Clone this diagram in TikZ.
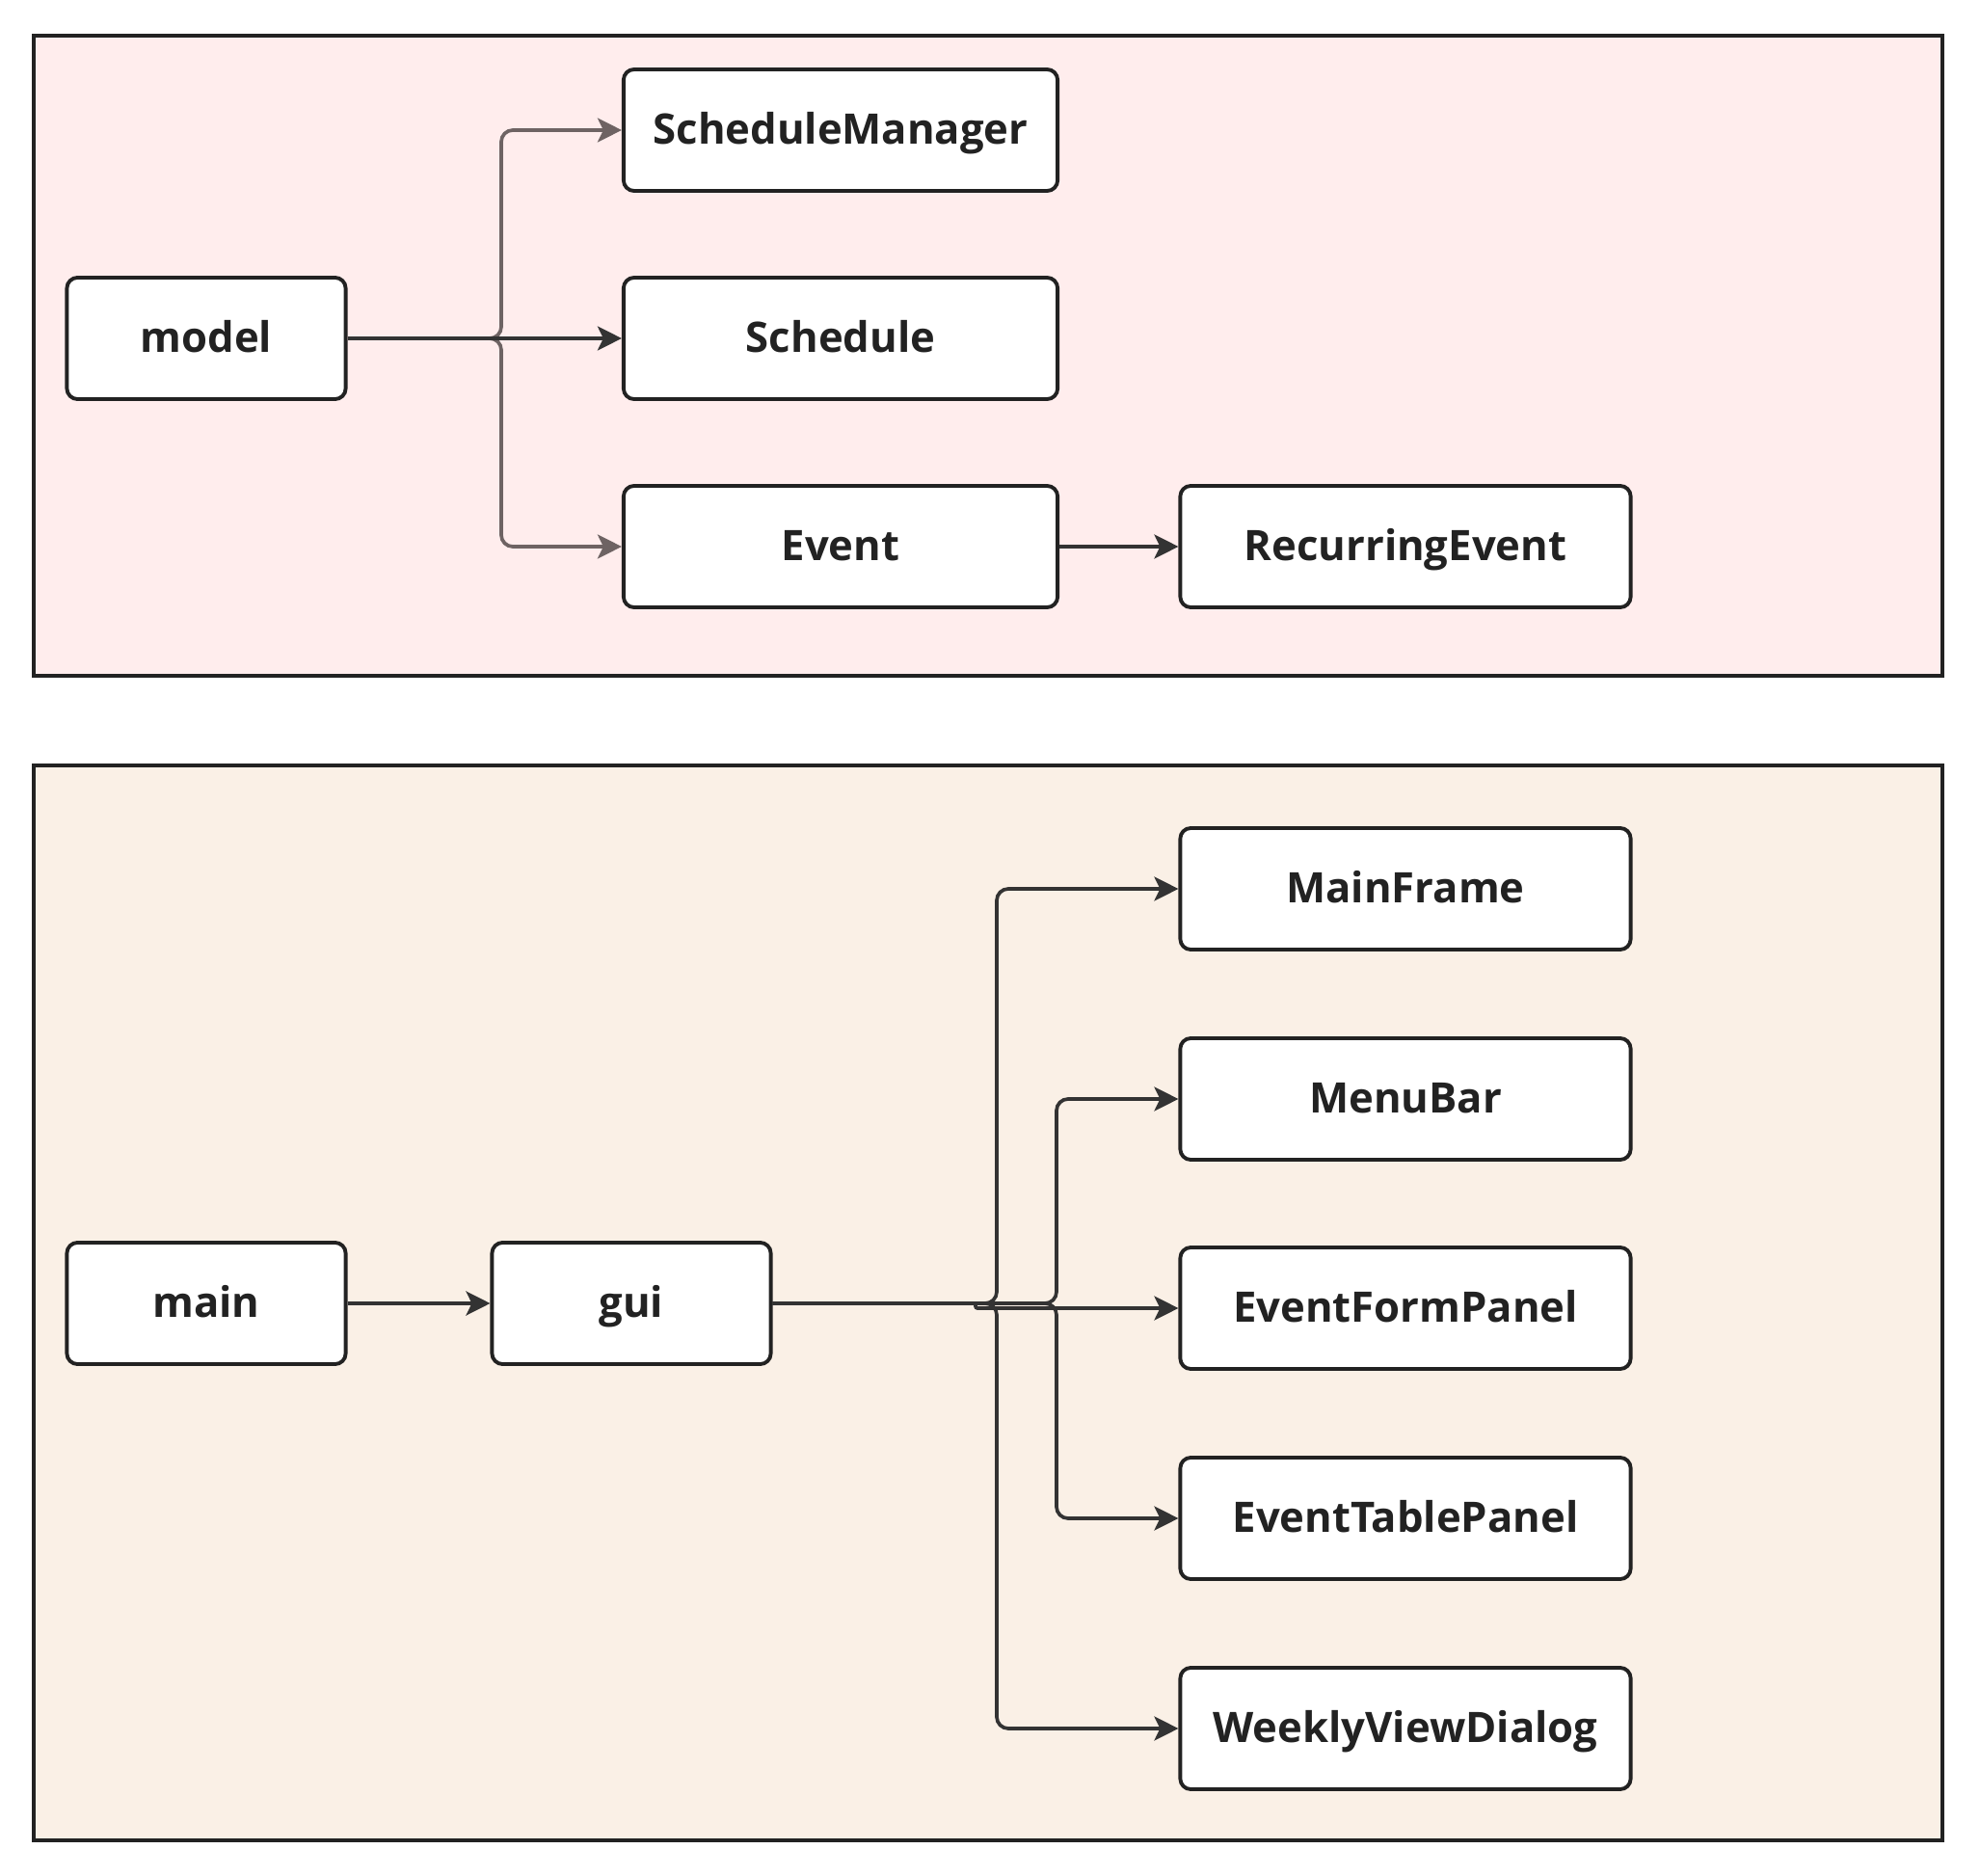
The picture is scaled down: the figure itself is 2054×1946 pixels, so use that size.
\documentclass[tikz,border=0pt]{standalone}
\usepackage{fontspec}
\setmainfont{Open Sans}
\usetikzlibrary{arrows.meta}
\definecolor{modelbg}{HTML}{FFEDED}
\definecolor{guibg}{HTML}{FAF0E6}
\definecolor{ink}{HTML}{222222}
\definecolor{softedge}{HTML}{6E6363}
\definecolor{darkedge}{HTML}{333333}
\begin{document}
\begin{tikzpicture}[x=0.01cm,y=-0.01cm,
  cluster/.style={draw=ink,line width=1.1pt},
  box/.style={draw=ink,fill=white,line width=1.1pt,rounded corners=0.11cm,
    minimum height=1.26cm,font=\bfseries\fontsize{12.4}{15}\selectfont,text=ink,inner sep=0pt,
    text height=0.98em,text depth=0.16em},
  narrow/.style={box,minimum width=2.89cm},
  wide/.style={box,minimum width=4.50cm},
  wider/.style={box,minimum width=4.67cm},
  link/.style={line width=1.05pt,rounded corners=0.12cm,-{Stealth[length=0.25cm,width=0.25cm,inset=0.06cm]}},
  soft/.style={link,draw=softedge,color=softedge},
  hard/.style={link,draw=darkedge,color=darkedge}]
\useasboundingbox (0,0) rectangle (2054,1946);
\fill[white] (0,0) rectangle (2054,1946);

% package frames
\draw[cluster,fill=modelbg] (35,37) rectangle (2015,701);
\draw[cluster,fill=guibg] (35,794) rectangle (2015,1909);

% model package
\node[narrow] (model) at (214,351) {model};
\node[wide] (mgr) at (872,135) {ScheduleManager};
\node[wide] (sched) at (872,351) {Schedule};
\node[wide] (event) at (872,567) {Event};
\node[wider] (recur) at (1458,567) {RecurringEvent};

\draw[soft] (model.east) -- (520,351) -- (520,135) -- (mgr.west);
\draw[soft] (model.east) -- (520,351) -- (520,567) -- (event.west);
\draw[hard] (model.east) -- (sched.west);
\draw[hard] (event.east) -- (recur.west);

% gui package
\node[narrow] (main) at (214,1352) {main};
\node[narrow] (gui) at (655,1352) {gui};
\node[wider] (frame) at (1458,922) {MainFrame};
\node[wider] (menu) at (1458,1140) {MenuBar};
\node[wider] (form) at (1458,1357) {EventFormPanel};
\node[wider] (table) at (1458,1575) {EventTablePanel};
\node[wider] (weekly) at (1458,1793) {WeeklyViewDialog};

\draw[hard] (main.east) -- (gui.west);
\draw[hard] (gui.east) -- (1034,1352) -- (1034,922) -- (frame.west);
\draw[hard] (gui.east) -- (1096,1352) -- (1096,1140) -- (menu.west);
\draw[hard,rounded corners=0.02cm] (gui.east) -- (1012,1352) -- (1012,1357) -- (form.west);
\draw[hard] (gui.east) -- (1034,1352) -- (1034,1793) -- (weekly.west);
\draw[hard] (gui.east) -- (1096,1352) -- (1096,1575) -- (table.west);
\end{tikzpicture}
\end{document}
